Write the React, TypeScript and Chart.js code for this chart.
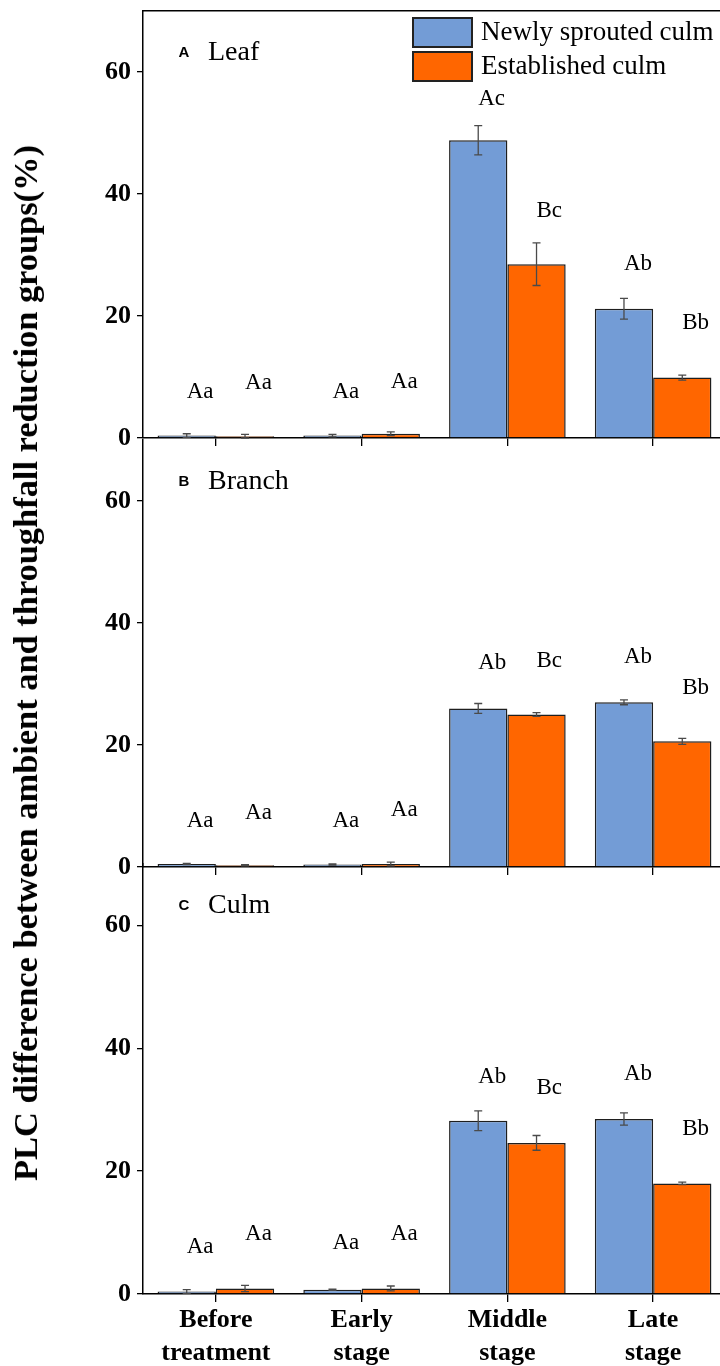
import React, { useEffect, useRef } from 'react';
import { Chart, registerables } from 'chart.js';

Chart.register(...registerables);

// ---------- data ----------
const CATEGORIES = [['Before', 'treatment'], ['Early', 'stage'], ['Middle', 'stage'], ['Late', 'stage']];
const SERIES_NAMES = ['Newly sprouted culm', 'Established culm'];
const Y_TICKS = [0, 20, 40, 60];
const Y_MAX = 70;
const Y_TITLE = 'PLC difference between ambient and throughfall reduction groups(%)';

// Panel A - Leaf
const LEAF_NEW = [0.4, 0.4, 48.8, 21.2];
const LEAF_NEW_ERR = [0.3, 0.2, 2.4, 1.7];
const LEAF_EST = [0.3, 0.7, 28.5, 9.9];
const LEAF_EST_ERR = [0.3, 0.3, 3.5, 0.4];
const LEAF_NEW_LETTERS = ['Aa', 'Aa', 'Ac', 'Ab'];
const LEAF_NEW_LETTER_Y = [7.5, 7.5, 55.6, 28.5];
const LEAF_EST_LETTERS = ['Aa', 'Aa', 'Bc', 'Bb'];
const LEAF_EST_LETTER_Y = [9.0, 9.2, 37.3, 18.8];

// Panel B - Branch
const BRANCH_NEW = [0.5, 0.4, 26.0, 27.0];
const BRANCH_NEW_ERR = [0.1, 0.1, 0.8, 0.4];
const BRANCH_EST = [0.3, 0.5, 25.0, 20.6];
const BRANCH_EST_ERR = [0.1, 0.3, 0.3, 0.5];
const BRANCH_NEW_LETTERS = ['Aa', 'Aa', 'Ab', 'Ab'];
const BRANCH_NEW_LETTER_Y = [7.6, 7.6, 33.4, 34.5];
const BRANCH_EST_LETTERS = ['Aa', 'Aa', 'Bc', 'Bb'];
const BRANCH_EST_LETTER_Y = [8.9, 9.4, 33.8, 29.4];

// Panel C - Culm
const CULM_NEW = [0.4, 0.7, 28.2, 28.5];
const CULM_NEW_ERR = [0.3, 0.1, 1.6, 1.0];
const CULM_EST = [0.9, 0.9, 24.6, 18.0];
const CULM_EST_ERR = [0.5, 0.4, 1.2, 0.2];
const CULM_NEW_LETTERS = ['Aa', 'Aa', 'Ab', 'Ab'];
const CULM_NEW_LETTER_Y = [7.7, 8.3, 35.4, 35.9];
const CULM_EST_LETTERS = ['Aa', 'Aa', 'Bc', 'Bb'];
const CULM_EST_LETTER_Y = [9.8, 9.8, 33.5, 26.8];

// ---------- styles ----------
const SERIF = '"Liberation Serif", "Times New Roman", serif';
const SANS = '"Liberation Sans", Arial, sans-serif';
const BLUE = '#739CD6';
const ORANGE = '#FF6600';
const CANVAS_W = 740;

type Panel = {
  letter: string;
  name: string;
  newVals: number[];
  newErr: number[];
  estVals: number[];
  estErr: number[];
  newLetters: string[];
  newLetterY: number[];
  estLetters: string[];
  estLetterY: number[];
  top: number;
  height: number;
  padTop: number;
  xHeight: number;
  showXLabels: boolean;
  showLegend: boolean;
  topBorder: boolean;
};

const PANELS: Panel[] = [
  {
    letter: 'A', name: 'Leaf',
    newVals: LEAF_NEW, newErr: LEAF_NEW_ERR, estVals: LEAF_EST, estErr: LEAF_EST_ERR,
    newLetters: LEAF_NEW_LETTERS, newLetterY: LEAF_NEW_LETTER_Y,
    estLetters: LEAF_EST_LETTERS, estLetterY: LEAF_EST_LETTER_Y,
    top: 0, height: 448, padTop: 11, xHeight: 10, showXLabels: false, showLegend: true, topBorder: true,
  },
  {
    letter: 'B', name: 'Branch',
    newVals: BRANCH_NEW, newErr: BRANCH_NEW_ERR, estVals: BRANCH_EST, estErr: BRANCH_EST_ERR,
    newLetters: BRANCH_NEW_LETTERS, newLetterY: BRANCH_NEW_LETTER_Y,
    estLetters: BRANCH_EST_LETTERS, estLetterY: BRANCH_EST_LETTER_Y,
    top: 429, height: 448, padTop: 11, xHeight: 10, showXLabels: false, showLegend: false, topBorder: false,
  },
  {
    letter: 'C', name: 'Culm',
    newVals: CULM_NEW, newErr: CULM_NEW_ERR, estVals: CULM_EST, estErr: CULM_EST_ERR,
    newLetters: CULM_NEW_LETTERS, newLetterY: CULM_NEW_LETTER_Y,
    estLetters: CULM_EST_LETTERS, estLetterY: CULM_EST_LETTER_Y,
    top: 854, height: 512, padTop: 10, xHeight: 72, showXLabels: true, showLegend: false, topBorder: false,
  },
];

const zeroPad = (s: any) => {
  s.paddingTop = 0;
  s.paddingBottom = 0;
  s.paddingLeft = 0;
  s.paddingRight = 0;
};

const decorPlugin = {
  id: 'panelDecor',
  afterDatasetsDraw(chart: any, _args: any, opts: any) {
    const p: Panel = opts.panel;
    const ctx = chart.ctx;
    const y = chart.scales.y;
    const area = chart.chartArea;
    ctx.save();
    // error bars
    const sets: [number[], number[]][] = [[p.newVals, p.newErr], [p.estVals, p.estErr]];
    sets.forEach(([vals, errs], di) => {
      const meta = chart.getDatasetMeta(di);
      meta.data.forEach((el: any, i: number) => {
        const x = el.x;
        const t = y.getPixelForValue(vals[i] + errs[i]);
        const b = y.getPixelForValue(vals[i] - errs[i]);
        ctx.strokeStyle = '#4a4a4a';
        ctx.lineWidth = 1.3;
        ctx.beginPath();
        ctx.moveTo(x, t); ctx.lineTo(x, b);
        ctx.moveTo(x - 4, t); ctx.lineTo(x + 4, t);
        ctx.moveTo(x - 4, b); ctx.lineTo(x + 4, b);
        ctx.stroke();
      });
    });
    // significance letters
    ctx.fillStyle = '#000';
    ctx.font = `23px ${SERIF}`;
    ctx.textAlign = 'left';
    ctx.textBaseline = 'middle';
    const letterSets: [string[], number[]][] = [[p.newLetters, p.newLetterY], [p.estLetters, p.estLetterY]];
    letterSets.forEach(([txts, ys], di) => {
      const meta = chart.getDatasetMeta(di);
      meta.data.forEach((el: any, i: number) => {
        ctx.fillText(txts[i], el.x, y.getPixelForValue(ys[i]));
      });
    });
    // panel title
    ctx.font = `bold 15px ${SANS}`;
    ctx.textAlign = 'center';
    ctx.fillText(p.letter, area.left + 41, area.top + 42);
    ctx.font = `28px ${SERIF}`;
    ctx.textAlign = 'left';
    ctx.fillText(p.name, area.left + 65, area.top + 42);
    // legend
    if (p.showLegend) {
      chart.data.datasets.forEach((ds: any, i: number) => {
        const bx = area.left + 270;
        const by = area.top + 7 + i * 34;
        ctx.fillStyle = ds.backgroundColor;
        ctx.fillRect(bx, by, 59, 29);
        ctx.strokeStyle = '#222';
        ctx.lineWidth = 2;
        ctx.strokeRect(bx, by, 59, 29);
        ctx.fillStyle = '#000';
        ctx.font = `27px ${SERIF}`;
        ctx.textAlign = 'left';
        ctx.textBaseline = 'middle';
        ctx.fillText(ds.label, bx + 68, by + 15);
      });
    }
    ctx.restore();
  },
};

function buildChart(canvas: HTMLCanvasElement, p: Panel) {
  const scales: any = {
    x: {
      type: 'category',
      offset: true,
      grid: {
        display: true,
        offset: false,
        drawOnChartArea: false,
        drawTicks: true,
        tickLength: 8,
        color: '#000',
        lineWidth: 1.3,
      },
      border: { display: true, color: '#000', width: 1.5 },
      ticks: {
        display: p.showXLabels,
        color: '#000',
        padding: 2,
        maxRotation: 0,
        autoSkip: false,
        font: { family: SERIF, size: 26, weight: 'bold', lineHeight: '33px' },
      },
      afterFit: (s: any) => { s.height = p.xHeight; zeroPad(s); },
    },
    y: {
      type: 'linear',
      min: 0,
      max: Y_MAX,
      afterBuildTicks: (s: any) => { s.ticks = Y_TICKS.map((v) => ({ value: v })); },
      afterFit: (s: any) => { s.width = 143; zeroPad(s); },
      grid: {
        display: true,
        drawOnChartArea: false,
        drawTicks: true,
        tickLength: 6,
        color: '#000',
        lineWidth: 1.3,
      },
      border: { display: true, color: '#000', width: 1.5 },
      ticks: {
        color: '#000',
        padding: 6,
        font: { family: SERIF, size: 26, weight: 'bold' },
      },
    },
  };
  if (p.topBorder) {
    scales.x2 = {
      type: 'category',
      position: 'top',
      display: true,
      grid: { display: false, drawTicks: false },
      ticks: { display: false },
      border: { display: true, color: '#000', width: 1.5 },
      afterFit: (s: any) => { s.height = 0; zeroPad(s); },
    };
  }
  return new Chart(canvas, {
    type: 'bar',
    data: {
      labels: CATEGORIES as any,
      datasets: [
        {
          label: SERIES_NAMES[0],
          data: p.newVals,
          backgroundColor: BLUE,
          borderColor: '#1e1e1e',
          borderWidth: 1.5,
          barPercentage: 1.0,
          categoryPercentage: 0.8,
        },
        {
          label: SERIES_NAMES[1],
          data: p.estVals,
          backgroundColor: ORANGE,
          borderColor: '#1e1e1e',
          borderWidth: 1.5,
          barPercentage: 1.0,
          categoryPercentage: 0.8,
        },
      ],
    },
    options: {
      responsive: false,
      animation: false,
      devicePixelRatio: 1,
      layout: { padding: { top: p.padTop, left: 0, right: 14, bottom: 0 } },
      plugins: {
        legend: { display: false },
        tooltip: { enabled: false },
        title: { display: false },
        panelDecor: { panel: p },
      } as any,
      scales,
    },
    plugins: [decorPlugin as any],
  });
}

function PanelCanvas({ panel }: { panel: Panel }) {
  const ref = useRef<HTMLCanvasElement | null>(null);
  useEffect(() => {
    if (!ref.current) return;
    const chart = buildChart(ref.current, panel);
    return () => chart.destroy();
  }, [panel]);
  return (
    <canvas
      ref={ref}
      width={CANVAS_W}
      height={panel.height}
      style={{ position: 'absolute', left: 0, top: panel.top, width: CANVAS_W, height: panel.height }}
    />
  );
}

export default function App() {
  return (
    <div
      style={{
        position: 'absolute',
        left: 0,
        top: 0,
        width: 720,
        height: 1366,
        overflow: 'hidden',
        background: '#fff',
      }}
    >
      {PANELS.map((p) => (
        <PanelCanvas key={p.letter} panel={p} />
      ))}
      <div
        style={{
          position: 'absolute',
          left: 25,
          top: 663,
          transform: 'translate(-50%, -50%) rotate(-90deg)',
          whiteSpace: 'nowrap',
          fontFamily: SERIF,
          fontWeight: 'bold',
          fontSize: 34.4,
          lineHeight: '34px',
          color: '#000',
        }}
      >
        {Y_TITLE}
      </div>
    </div>
  );
}
